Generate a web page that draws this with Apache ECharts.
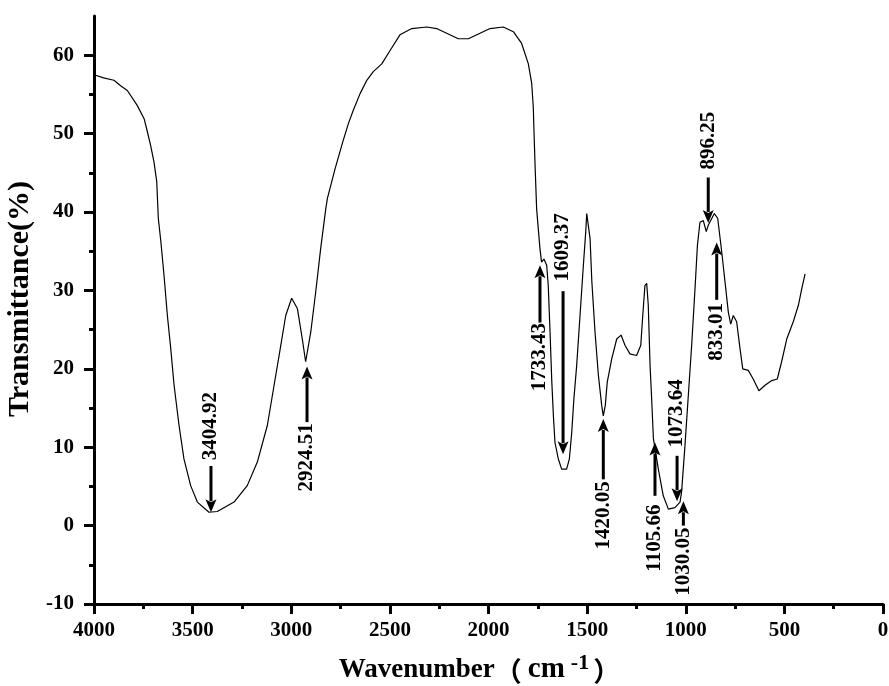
<!DOCTYPE html>
<html>
<head>
<meta charset="utf-8">
<script src="https://cdn.jsdelivr.net/npm/echarts@6/dist/echarts.min.js"></script>
<style>
html,body{margin:0;padding:0;background:#fff;}
#chart{width:889px;height:686px;}
</style>
</head>
<body>
<div id="chart"></div>
<script>
// FTIR spectrum
const waveNumbers = [4000,3951,3899,3865,3831,3781,3746,3730,3713,3696,3682,3674,3661,3645,3628,3611,3594,3569,3544,3510,3476,3417,3375,3290,3223,3172,3121,3087,3053,3028,2998,2969,2944,2927,2901,2876,2851,2825,2817,2778,2738,2710,2685,2651,2617,2584,2541,2499,2449,2389,2313,2263,2212,2153,2102,2043,1992,1925,1874,1832,1798,1781,1773,1769,1764,1756,1739,1731,1719,1705,1697,1688,1679,1671,1663,1646,1629,1604,1590,1578,1567,1553,1536,1519,1507,1502,1492,1485,1476,1460,1443,1426,1418,1408,1398,1375,1350,1328,1308,1283,1249,1228,1218,1207,1198,1190,1181,1173,1164,1139,1114,1088,1055,1029,1021,1004,987,970,953,941,928,911,896,886,855,838,818,801,784,772,759,742,725,711,683,658,629,598,564,536,514,488,455,429,412,395];
const transmittance = [57.5,57.1,56.8,56.1,55.5,53.6,51.9,50.3,48.5,46.4,43.9,39.2,36.2,31.9,26.8,22.6,17.9,12.8,8.5,5.1,3.0,1.7,1.8,3.0,5.1,8.1,12.8,17.9,23.0,26.8,29.0,27.7,23.8,20.9,24.7,29.8,35.3,40.4,41.7,45.5,49.0,51.3,53.0,55.1,56.8,57.9,58.9,60.6,62.6,63.4,63.6,63.4,62.8,62.1,62.1,62.8,63.4,63.6,63.0,61.5,58.9,56.4,53.4,50.0,46.0,40.4,35.3,33.6,34.0,33.2,30.6,24.7,18.3,14.0,10.6,8.5,7.2,7.2,8.5,11.9,16.2,20.4,26.8,33.2,37.5,39.8,39.8,36.6,31.1,24.7,19.2,15.3,14.0,15.3,18.3,21.3,23.8,24.3,23.0,21.9,21.7,23.0,26.8,30.6,30.9,28.1,20.5,16.2,11.1,7.2,3.8,2.1,2.3,3.0,4.3,10.2,16.6,23.0,30.2,35.7,38.7,38.9,37.5,38.3,39.8,39.2,35.0,31.1,27.2,25.7,26.8,26.0,22.6,20.0,19.8,18.7,17.2,17.9,18.5,18.7,20.9,23.8,26.0,28.1,30.2,32.1];

// Peak annotations
const peakLabels = ['3404.92','2924.51','1733.43','1609.37','1420.05','1105.66','1073.64','1030.05','896.25','833.01'];
const peakWave   = [3407, 2920, 1739, 1622, 1418, 1156, 1044, 1012, 886, 843];
const peakTip    = [1.7, 20.3, 33.2, 9.1, 13.6, 10.6, 3.1, 3.1, 38.6, 36.1];
const peakTail   = [7.6, 13.2, 25.9, 29.9, 5.9, 3.8, 8.9, 0.0, 44.4, 28.8];
const peakText   = [12.7, 8.7, 21.5, 35.5, 1.3, -1.6, 14.3, -4.6, 49.1, 24.7];

// Axis ticks
const xTickInterval = 500;
const yMajorTicks = [-10, 0, 10, 20, 30, 40, 50, 60];
const yMinorTicks = [-5, 5, 15, 25, 35, 45, 55];

const spectrum = waveNumbers.map((w, i) => [w, transmittance[i]]);
const peaks = peakLabels.map((l, i) => [peakWave[i], peakTip[i], peakTail[i], peakText[i]]);

const FONT = '"Liberation Serif", "Times New Roman", serif';
const CJK = '"Noto Sans CJK SC", sans-serif';
const chart = echarts.init(document.getElementById('chart'));

function renderPeak(params, api) {
  const i = params.dataIndex;
  const x = api.value(0);
  const pTip = api.coord([x, api.value(1)]);
  const pTail = api.coord([x, api.value(2)]);
  const pLab = api.coord([x, api.value(3)]);
  const dir = pTip[1] > pTail[1] ? 1 : -1;
  const headLen = 13, headW = 5.5;
  const base = pTip[1] - dir * headLen;
  return {
    type: 'group',
    children: [
      {type: 'line', shape: {x1: pTail[0], y1: pTail[1], x2: pTail[0], y2: base + dir * 2},
       style: {stroke: '#000', lineWidth: 3}},
      {type: 'polygon', shape: {points: [[pTip[0], pTip[1]], [pTip[0] - headW, base], [pTip[0], base + dir * 3], [pTip[0] + headW, base]]},
       style: {fill: '#000'}},
      {type: 'text', x: pLab[0], y: pLab[1], rotation: Math.PI / 2,
       style: {text: peakLabels[i], font: 'bold 21px ' + FONT, fill: '#000', align: 'center', verticalAlign: 'middle'}}
    ]
  };
}

const axisColor = '#000';
chart.setOption({
  backgroundColor: '#fff',
  animation: false,
  grid: {left: 94, right: 6, top: 16, bottom: 82, containLabel: false, outerBoundsMode: 'none'},
  xAxis: {
    type: 'value', inverse: true, min: 0, max: 4000, interval: xTickInterval,
    position: 'bottom',
    axisLine: {onZero: false, lineStyle: {color: axisColor, width: 3}},
    axisTick: {length: 10, lineStyle: {color: axisColor, width: 3}},
    minorTick: {show: true, splitNumber: 2, length: 5, lineStyle: {color: axisColor, width: 3}},
    splitLine: {show: false},
    axisLabel: {margin: 16, color: '#000', fontFamily: FONT, fontWeight: 'bold', fontSize: 21,
                formatter: v => String(v)},
    name: '{a|Wavenumber}{p|（}{c|cm}{s|-1}{p|）}',
    nameLocation: 'middle', nameGap: 46,
    nameTextStyle: {
      padding: [0, 18, 0, 0],
      rich: {
        a: {fontFamily: FONT, fontWeight: 'bold', fontSize: 27, color: '#000', verticalAlign: 'bottom', lineHeight: 34},
        c: {fontFamily: FONT, fontWeight: 'bold', fontSize: 29, color: '#000', verticalAlign: 'bottom', lineHeight: 34, padding: [0, 6, 0, 6]},
        p: {fontFamily: CJK, fontWeight: 'bold', fontSize: 27, color: '#000', verticalAlign: 'bottom', lineHeight: 34},
        s: {fontFamily: FONT, fontWeight: 'bold', fontSize: 22, color: '#000', verticalAlign: 'bottom', lineHeight: 34, padding: [0, 4, 10, 0]}
      }
    }
  },
  yAxis: [{
    type: 'value', min: -10, max: 65, interval: 5, position: 'left',
    axisLine: {show: true, onZero: false, lineStyle: {color: axisColor, width: 3}},
    axisTick: {show: true, length: 10, customValues: yMajorTicks, lineStyle: {color: axisColor, width: 3}},
    splitLine: {show: false},
    axisLabel: {margin: 20, customValues: yMajorTicks, color: '#000', fontFamily: FONT, fontWeight: 'bold', fontSize: 21},
    name: 'Transmittance(%)',
    nameLocation: 'middle', nameGap: 52,
    nameTextStyle: {fontFamily: FONT, fontWeight: 'bold', fontSize: 30, color: '#000', padding: [0, 0, 0, 22]}
  }, {
    type: 'value', min: -10, max: 65, interval: 5, position: 'left', offset: 0,
    axisLine: {show: false, onZero: false},
    axisTick: {show: true, length: 5, customValues: yMinorTicks, lineStyle: {color: axisColor, width: 3}},
    splitLine: {show: false},
    axisLabel: {show: false}
  }],
  series: [{
    type: 'line', data: spectrum, showSymbol: false, symbol: 'none', smooth: false,
    lineStyle: {color: '#000', width: 1.2}, silent: true
  }, {
    type: 'custom', data: peaks, renderItem: renderPeak, clip: false, silent: true, z: 5
  }]
});
</script>
</body>
</html>
